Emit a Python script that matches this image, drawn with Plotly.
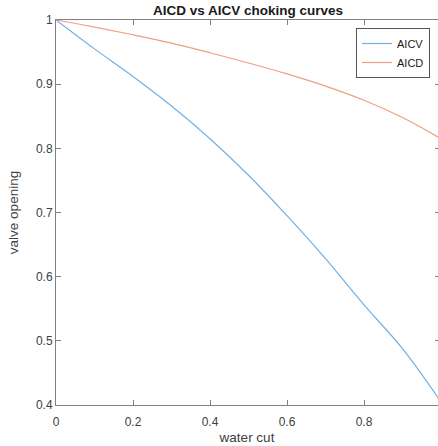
import plotly.graph_objects as go

water_cut = [0.0, 0.1, 0.2, 0.3, 0.4, 0.5, 0.6, 0.7, 0.8, 0.9, 1.0]
aicv = [1.0, 0.955, 0.912, 0.866, 0.815, 0.758, 0.695, 0.628, 0.556, 0.488, 0.405]
aicd = [1.0, 0.989, 0.977, 0.964, 0.949, 0.933, 0.916, 0.897, 0.875, 0.848, 0.815]
x_ticks = [0, 0.2, 0.4, 0.6, 0.8, 1.0]
y_ticks = [0.4, 0.5, 0.6, 0.7, 0.8, 0.9, 1.0]
y_ticklabels = ["0.4", "0.5", "0.6", "0.7", "0.8", "0.9", "1"]
x_ticklabels = ["0", "0.2", "0.4", "0.6", "0.8", "1"]

font = "Liberation Sans, Arial, sans-serif"
axis_col = "#808080"
text_col = "#404040"

fig = go.Figure()
fig.add_trace(go.Scatter(x=water_cut, y=aicv, mode="lines", name="AICV",
                         line=dict(color="#6fb1e6", width=1.2, shape="spline")))
fig.add_trace(go.Scatter(x=water_cut, y=aicd, mode="lines", name="AICD",
                         line=dict(color="#ee9f80", width=1.2, shape="spline")))
# right-side ticks (box)
fig.add_trace(go.Scatter(x=[None], y=[None], yaxis="y2", showlegend=False))

x_max = 382 / 385

fig.update_layout(
    width=438, height=446,
    margin=dict(l=56, r=0, t=20, b=41),
    paper_bgcolor="white", plot_bgcolor="white",
    title=dict(text="<b>AICD vs AICV choking curves</b>", x=(248 - 56) / 382, xref="paper",
               xanchor="center", y=1 - 10.5 / 446, yanchor="middle",
               font=dict(family=font, size=13.5, color="#1a1a1a")),
    xaxis=dict(range=[0, x_max], tickvals=x_ticks, ticktext=x_ticklabels,
               ticks="inside", ticklen=5, tickcolor=axis_col, tickwidth=1,
               showline=True, linecolor=axis_col, linewidth=1, mirror="ticks",
               showgrid=False, zeroline=False, automargin=False,
               ticklabelstandoff=6,
               tickfont=dict(family=font, size=12, color=text_col),
               title=dict(text="water cut", font=dict(family=font, size=13.5, color=text_col), standoff=4)),
    yaxis=dict(range=[0.4, 1.0], tickvals=y_ticks, ticktext=y_ticklabels,
               ticks="inside", ticklen=5, tickcolor=axis_col, tickwidth=1,
               showline=True, linecolor=axis_col, linewidth=1,
               showgrid=False, zeroline=False, automargin=False,
               tickfont=dict(family=font, size=12, color=text_col),
               title=dict(text="valve opening", font=dict(family=font, size=13.5, color=text_col), standoff=14)),
    yaxis2=dict(range=[0.4, 1.0], tickvals=y_ticks, overlaying="y", side="right",
                ticks="inside", ticklen=3, tickcolor=axis_col, showticklabels=False,
                showline=False, showgrid=False, zeroline=False, automargin=False),
    legend=dict(x=(430 - 56) / 382, xanchor="right", y=(405 - 28) / 385, yanchor="top",
                bgcolor="white", bordercolor="#555555", borderwidth=1,
                font=dict(family=font, size=11, color="#1a1a1a"),
                tracegroupgap=0, itemwidth=30),
    showlegend=True,
)

fig.write_html("out.html", config={"displayModeBar": False},
               post_script="document.body.style.margin='0';document.body.style.overflow='hidden';")
